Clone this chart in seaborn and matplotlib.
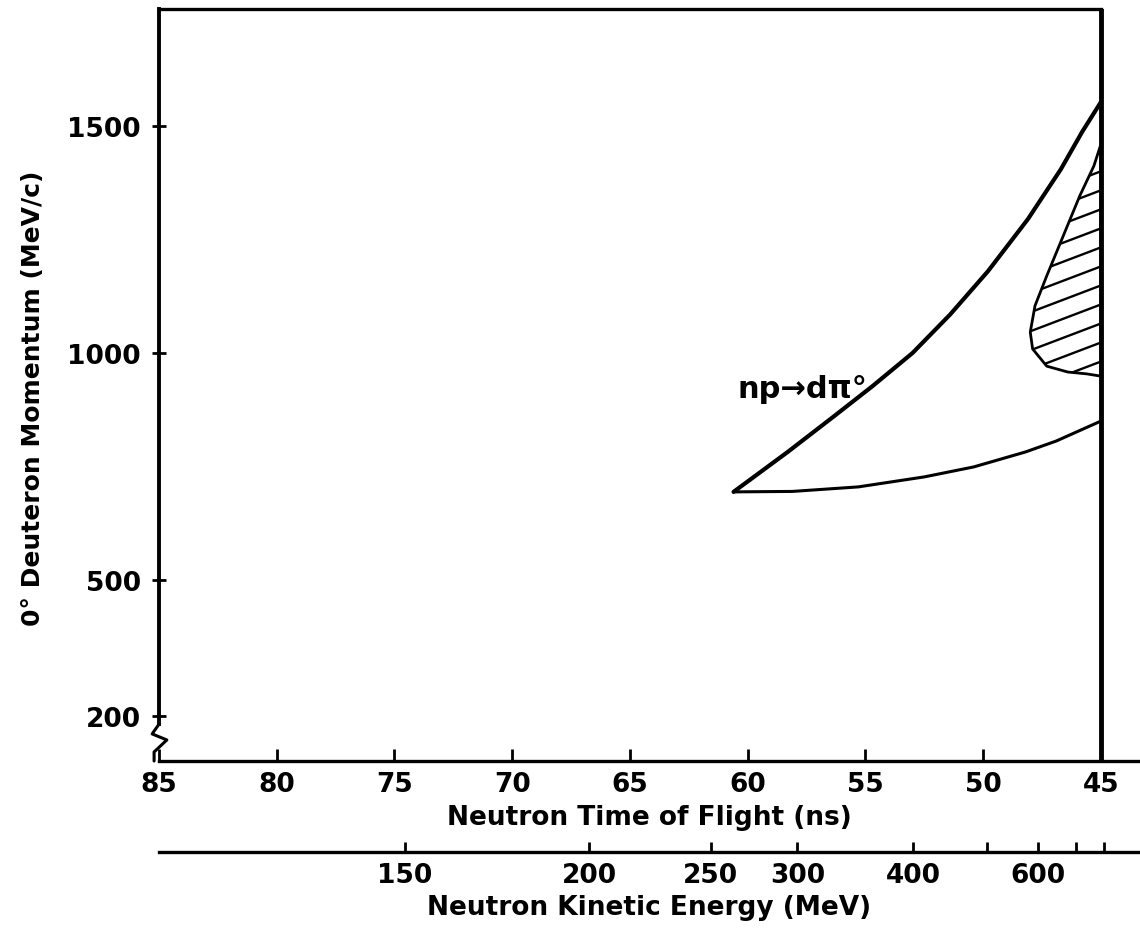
import numpy as np
import pandas as pd
import matplotlib
matplotlib.use("Agg")
import matplotlib.pyplot as plt
import seaborn as sns

# ---------------- data ----------------
tof_ticks = [85, 80, 75, 70, 65, 60, 55, 50, 45]
momentum_ticks = [200, 500, 1000, 1500]
energy_ticks = [150, 200, 250, 300, 400, 500, 600, 700, 800]
energy_labels = ["150", "200", "250", "300", "400", "", "600", "", ""]

upper_tof = [60.6, 58.3, 56.4, 54.7, 53.0, 51.4, 49.8, 48.1, 46.7, 45.8, 45.0]
upper_p = [694, 782, 858, 927, 1000, 1085, 1180, 1295, 1405, 1487, 1553]

lower_tof = [60.6, 58.1, 55.3, 52.5, 50.4, 48.2, 46.9, 45.0]
lower_p = [694, 695, 705, 727, 749, 782, 806, 850]

hatch_tof = [45.0, 45.3, 45.9, 46.6, 47.3, 47.8, 48.0, 47.9, 47.3, 46.4, 45.6, 45.0]
hatch_p = [1460, 1412, 1346, 1258, 1170, 1104, 1046, 1009, 971, 958, 954, 949]

reaction_label = "np→dπ°"
label_tof, label_p = 60.45, 903

FLIGHT_PATH_M = 11.32      # neutron flight path (m)
NEUTRON_MASS = 939.57      # MeV
C_M_PER_NS = 0.299792458


def tof_to_energy(t):
    t = np.maximum(np.asarray(t, dtype=float), 1e-3)
    beta = np.clip(FLIGHT_PATH_M / (C_M_PER_NS * t), 1e-6, 0.999999)
    return NEUTRON_MASS * (1.0 / np.sqrt(1.0 - beta ** 2) - 1.0)


def energy_to_tof(T):
    T = np.maximum(np.asarray(T, dtype=float), 1e-6)
    gamma = 1.0 + T / NEUTRON_MASS
    beta = np.sqrt(1.0 - 1.0 / gamma ** 2)
    return FLIGHT_PATH_M / (C_M_PER_NS * beta)


# ---------------- style ----------------
sns.set_theme(style="white")
plt.rcParams["font.family"] = ["DejaVu Sans"]
plt.rcParams["font.weight"] = "bold"
plt.rcParams["axes.labelweight"] = "bold"
plt.rcParams["axes.labelcolor"] = "black"
plt.rcParams["text.color"] = "black"

W, H = 1140, 929
fig = plt.figure(figsize=(W / 100, H / 100), dpi=100)
fig.patch.set_facecolor("white")
ax = fig.add_axes([159 / W, (H - 762) / H, (W - 159) / W, (762 - 10) / H])
ax.set_facecolor("white")

ax.set_xlim(85, 43.34)
ax.set_ylim(101, 1758)

# curves
upper = pd.DataFrame({"tof": upper_tof, "p": upper_p})
lower = pd.DataFrame({"tof": lower_tof, "p": lower_p})
sns.lineplot(data=upper, x="tof", y="p", ax=ax, color="black", lw=3.0,
             sort=False, estimator=None)
sns.lineplot(data=lower, x="tof", y="p", ax=ax, color="black", lw=2.2,
             sort=False, estimator=None)

# hatched region
patch = ax.fill(hatch_tof, hatch_p, facecolor="none", edgecolor="black",
                lw=2.0, joinstyle="round")[0]
slope = 0.38 * 981 / 752
for c in np.arange(0.30, 0.90, 0.0253):
    ln, = ax.plot([0.80, 1.0], [c, c + slope * 0.20], transform=ax.transAxes,
                  color="black", lw=1.7)
    ln.set_clip_path(patch)

ax.text(label_tof, label_p, reaction_label, fontsize=22, fontweight="bold",
        ha="left", va="baseline", color="black")

# frame
ax.axvline(45, color="black", lw=3.5)
for s in ["left", "bottom", "top"]:
    ax.spines[s].set_color("black")
ax.spines["left"].set_linewidth(2.8)
ax.spines["bottom"].set_linewidth(2.4)
ax.spines["top"].set_linewidth(2.4)
ax.spines["right"].set_visible(False)
ax.spines["top"].set_bounds(85, 45)
ax.spines["left"].set_bounds(183, 1758)
ax.plot([0, -0.007, 0.008, -0.005, -0.005], [0.049, 0.036, 0.028, 0.012, 0.0],
        transform=ax.transAxes, color="black", lw=2.2, clip_on=False)

# ticks
ax.set_xticks(tof_ticks)
ax.set_xticklabels([str(t) for t in tof_ticks])
ax.set_yticks(momentum_ticks)
ax.set_yticklabels([str(t) for t in momentum_ticks])
ax.tick_params(axis="x", direction="in", length=9, width=2, pad=7,
               labelsize=19, colors="black", bottom=True, top=False)
ax.tick_params(axis="y", direction="inout", length=10, width=2, pad=8,
               labelsize=19, colors="black", left=True, right=False)

ax.set_xlabel("Neutron Time of Flight (ns)", fontsize=19, fontweight="bold",
              color="black")
ax.xaxis.set_label_coords(0.5, -0.057)
ax.xaxis.label.set_va("top")
ax.set_ylabel("0° Deuteron Momentum (MeV/c)", fontsize=18, fontweight="bold",
              color="black")
ax.yaxis.set_label_coords(-0.116, 0.484)

# secondary energy axis
sec = ax.secondary_xaxis((762 - 853) / 752, functions=(tof_to_energy, energy_to_tof))
sec.set_xticks(energy_ticks, labels=energy_labels)
sec.tick_params(axis="x", direction="in", length=7, width=2, pad=7,
                labelsize=19, colors="black")
sec.spines["bottom"].set_color("black")
sec.spines["bottom"].set_linewidth(2.4)
sec.set_xlabel("Neutron Kinetic Energy (MeV)", fontsize=19, fontweight="bold",
               color="black")
sec.xaxis.set_label_coords(0.5, -0.177, transform=ax.transAxes)
sec.xaxis.label.set_va("top")

fig.savefig("out.png", dpi=100, facecolor="white")
